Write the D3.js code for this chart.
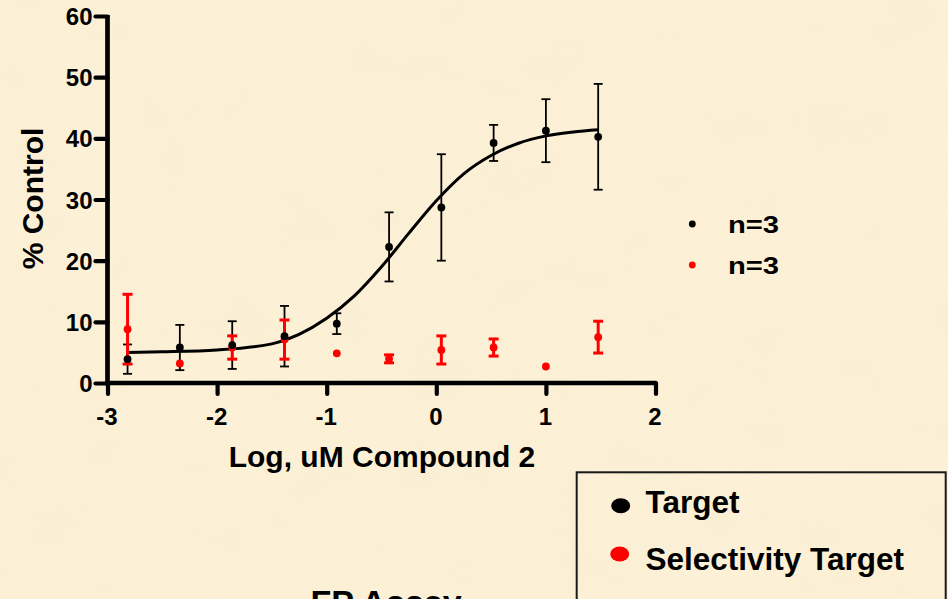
<!DOCTYPE html>
<html>
<head>
<meta charset="utf-8">
<script src="https://cdn.jsdelivr.net/npm/d3@7"></script>
<style>
  html, body { margin: 0; padding: 0; background: #FBEFD6; overflow: hidden; }
  svg { display: block; font-family: "Liberation Sans", Arial, sans-serif; font-weight: bold; }
</style>
</head>
<body>
<svg id="chart" width="948" height="599"></svg>
<script>
// ---- data ----
const logConc = [-2.817, -2.340, -1.862, -1.385, -0.908, -0.431, 0.046, 0.523, 1.000, 1.477];
const targetMean = [3.9, 5.8, 6.2, 7.65, 9.7, 22.25, 28.7, 39.25, 41.25, 40.25];
const targetErr  = [2.4, 3.7, 3.9, 4.95, 1.7, 5.65, 8.7, 2.95, 5.15, 8.65];
const selMean = [8.8, 3.2, 5.8, 7.1, 4.85, 3.95, 5.4, 5.8, 2.7, 7.5];
const selErr  = [5.7, 0, 1.9, 3.2, 0, 0.65, 2.3, 1.4, 0, 2.6];
// fitted curve
const curveX = [-2.817, -2.5, -2.0, -1.5, -1.0, -0.75, -0.5, -0.25, 0.0, 0.25, 0.5, 0.75, 1.0, 1.25, 1.477];
const curveY = [5.0, 5.1, 5.4, 6.4, 10.6, 14.2, 19.0, 24.5, 29.8, 34.2, 37.2, 39.2, 40.4, 41.05, 41.4];
const xTicks = [-3, -2, -1, 0, 1, 2];
const yTicks = [0, 10, 20, 30, 40, 50, 60];
const nLegend = ["n=3", "n=3"];
const seriesNames = ["Target", "Selectivity Target"];
const seriesColors = ["#000000", "#FF0000"];

const svg = d3.select("#chart");

// background texture
const defs = svg.append("defs");
const f = defs.append("filter").attr("id", "paper").attr("x", 0).attr("y", 0).attr("width", "100%").attr("height", "100%");
f.append("feTurbulence").attr("type", "fractalNoise").attr("baseFrequency", "0.015 0.02").attr("numOctaves", 3).attr("seed", 7);
f.append("feColorMatrix").attr("type", "matrix")
  .attr("values", "0 0 0 0 0.90  0 0 0 0 0.82  0 0 0 0 0.60  0 0 0 1.2 -0.45");
svg.append("rect").attr("width", 948).attr("height", 599).attr("fill", "#FCF0D6");
svg.append("rect").attr("width", 948).attr("height", 599).attr("filter", "url(#paper)").attr("opacity", 0.4);

// scales
const x = d3.scaleLinear().domain([-3, 2]).range([107.5, 655.5]);
const y = d3.scaleLinear().domain([0, 60]).range([383, 16]);

// axes
const yAxis = svg.append("g").attr("transform", "translate(107.5,0)")
  .call(d3.axisLeft(y).tickValues(yTicks).tickSize(12).tickSizeOuter(0).tickPadding(3));
const xAxis = svg.append("g").attr("transform", "translate(0,383)")
  .call(d3.axisBottom(x).tickValues(xTicks).tickSize(11).tickSizeOuter(0).tickPadding(0)
    .tickFormat(d => String(d)));
[yAxis, xAxis].forEach(g => {
  g.select(".domain").attr("stroke", "#000").attr("stroke-width", 4.7);
  g.selectAll(".tick line").attr("stroke", "#000").attr("stroke-width", 4.2).attr("stroke-linecap", "round");
  g.selectAll(".tick text").attr("fill", "#000").style("font-size", "24px").style("font-weight", "bold")
    .style("font-family", "'Liberation Sans', Arial, sans-serif");
});
yAxis.select(".domain").attr("d", `M0,${y(60) - 1}V${y(0) + 2.3}`);
xAxis.select(".domain").attr("d", `M${x(-3) - 2.3},0H${x(2) + 1}`);
yAxis.selectAll(".tick text").attr("dy", "0.36em");
xAxis.selectAll(".tick text").attr("y", 25).attr("dy", "0.71em").attr("dx", "-1");

// axis titles
svg.append("text").attr("transform", "translate(43,198.5) rotate(-90)")
  .attr("text-anchor", "middle").style("font-size", "30px").text("% Control");
svg.append("text").attr("x", 382).attr("y", 466.5)
  .attr("text-anchor", "middle").style("font-size", "30px").text("Log, uM Compound 2");

// fitted curve
const curvePts = curveX.map((v, i) => [v, curveY[i]]);
svg.append("path").datum(curvePts)
  .attr("fill", "none").attr("stroke", "#000").attr("stroke-width", 3)
  .attr("d", d3.line().x(d => x(d[0])).y(d => y(d[1])).curve(d3.curveMonotoneX));

function errorBars(means, errs, color, width, capW) {
  const g = svg.append("g");
  logConc.forEach((c, i) => {
    if (!errs[i]) return;
    const cx = x(c), top = y(means[i] + errs[i]), bot = y(means[i] - errs[i]);
    g.append("line").attr("x1", cx).attr("x2", cx).attr("y1", top).attr("y2", bot)
      .attr("stroke", color).attr("stroke-width", width);
    [top, bot].forEach(yy => g.append("line").attr("x1", cx - capW / 2).attr("x2", cx + capW / 2)
      .attr("y1", yy).attr("y2", yy).attr("stroke", color).attr("stroke-width", width));
  });
}
function points(means, color, r) {
  svg.append("g").selectAll("circle").data(logConc).join("circle")
    .attr("cx", d => x(d)).attr("cy", (d, i) => y(means[i])).attr("r", r).attr("fill", color);
}
errorBars(targetMean, targetErr, "#000", 1.8, 9);
errorBars(selMean, selErr, "#FF0000", 3, 10);
points(selMean, "#FF0000", 3.9);
points(targetMean, "#000", 3.9);

// n=3 legend
const nl = svg.append("g");
nLegend.forEach((t, i) => {
  const yy = [224, 265][i];
  nl.append("circle").attr("cx", 692.3).attr("cy", yy).attr("r", 3.4).attr("fill", seriesColors[i]);
  nl.append("text").attr("x", 728).attr("y", yy + 8.7).style("font-size", "24px")
    .attr("textLength", 51).attr("lengthAdjust", "spacingAndGlyphs").text(t);
});

// bottom legend box
svg.append("rect").attr("x", 576.7).attr("y", 472.3).attr("width", 369).attr("height", 200)
  .attr("fill", "none").attr("stroke", "#1a1a1a").attr("stroke-width", 2);
const lg = svg.append("g");
seriesNames.forEach((t, i) => {
  const cy = [505.7, 554][i];
  lg.append("ellipse").attr("cx", [620.7, 619.7][i]).attr("cy", cy).attr("rx", 9.5).attr("ry", 7.5)
    .attr("fill", seriesColors[i]);
  lg.append("text").attr("x", 645.5).attr("y", [513.3, 570][i]).style("font-size", "31.5px").text(t);
});

// cut-off title at the bottom
svg.append("text").attr("x", 310.5).attr("y", 613.6).style("font-size", "34px").text("FP Assay");
</script>
</body>
</html>
